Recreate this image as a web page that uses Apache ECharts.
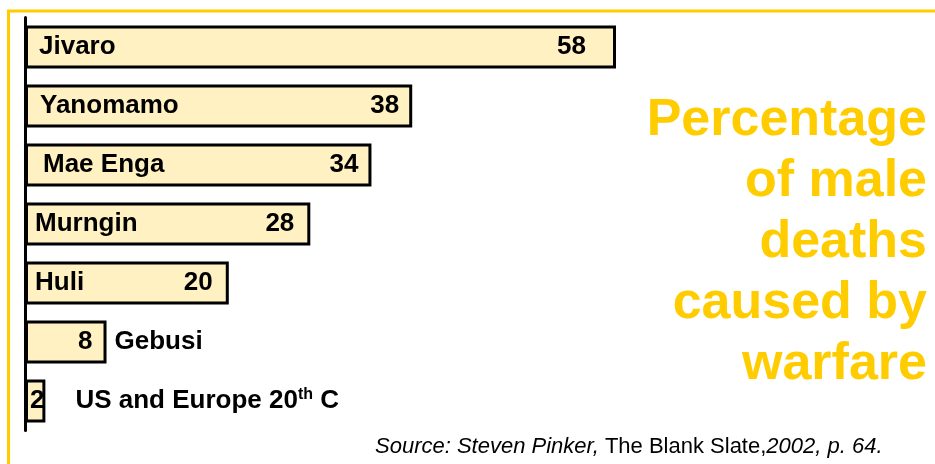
<!DOCTYPE html>
<html>
<head>
<meta charset="utf-8">
<script src="https://cdn.jsdelivr.net/npm/echarts@6/dist/echarts.min.js"></script>
<style>
  html, body { margin: 0; padding: 0; background: #fff; }
  #chart { width: 935px; height: 464px; }
</style>
</head>
<body>
<div id="chart"></div>
<script>
// data
const groups = ['Jivaro', 'Yanomamo', 'Mae Enga', 'Murngin', 'Huli', 'Gebusi', 'US and Europe 20th C'];
const percentMaleDeaths = [58, 38, 34, 28, 20, 8, 2];
// groups whose name sits outside the bar
const outsideNames = ['Gebusi', 'US and Europe 20th C'];

const titleText = 'Percentage\nof male\ndeaths\ncaused by\nwarfare';

const yellow = '#FFCC00';
const barFill = '#FFF1C1';
const font = '"Liberation Sans", Arial, sans-serif';

// small per-bar nudges for the label padding
const valuePad = [30, 13, 13, 16, 16, 14, 5];
const namePad = [14, 15, 18, 10, 10, 8, 30];

const chart = echarts.init(document.getElementById('chart'));

const valueData = percentMaleDeaths.map((v, i) => ({
  value: v,
  label: i === 6 ? { position: 'insideLeft', distance: valuePad[i] } : { distance: valuePad[i] }
}));

const nameData = percentMaleDeaths.map((v, i) => {
  const name = groups[i];
  if (outsideNames.indexOf(name) < 0) {
    return { value: v, label: { position: 'insideLeft', distance: namePad[i] } };
  }
  return {
    value: v,
    label: {
      position: 'right',
      distance: namePad[i],
      formatter: name === 'Gebusi' ? '{n|Gebusi}' : '{n|US and Europe 20}{s|th}{n| C}'
    }
  };
});

chart.setOption({
  animation: false,
  grid: { left: 25, right: 319, top: 17.5, bottom: 33.5 },
  xAxis: {
    type: 'value',
    min: 0,
    max: 58,
    show: false
  },
  yAxis: {
    type: 'category',
    data: groups,
    inverse: true,
    axisLine: { show: true, lineStyle: { color: '#000', width: 3 } },
    axisTick: { show: false },
    axisLabel: { show: false }
  },
  series: [
    {
      type: 'bar',
      barWidth: 43,
      data: valueData,
      itemStyle: { color: barFill, borderColor: '#000', borderWidth: 3 },
      label: {
        show: true,
        position: 'insideRight',
        formatter: '{c}',
        color: '#000',
        fontFamily: font,
        fontWeight: 'bold',
        fontSize: 26
      },
      silent: true
    },
    {
      type: 'bar',
      barWidth: 43,
      barGap: '-100%',
      data: nameData,
      itemStyle: { color: 'transparent', borderWidth: 0 },
      label: {
        show: true,
        formatter: '{b}',
        color: '#000',
        fontFamily: font,
        fontWeight: 'bold',
        fontSize: 26,
        rich: {
          n: { fontFamily: font, fontWeight: 'bold', fontSize: 26, color: '#000' },
          s: { fontFamily: font, fontWeight: 'bold', fontSize: 16, color: '#000', verticalAlign: 'top', padding: [0, 0, 12, 0] }
        }
      },
      silent: true,
      z: 3
    }
  ],
  graphic: [
    {
      type: 'polyline',
      shape: { points: [[8.5, 464], [8.5, 11], [935, 11]] },
      style: { stroke: yellow, lineWidth: 3, fill: null },
      silent: true
    },
    {
      type: 'text',
      x: 927,
      y: 90,
      style: {
        text: titleText,
        align: 'right',
        textAlign: 'right',
        verticalAlign: 'top',
        fill: yellow,
        font: 'bold 52px ' + font,
        lineHeight: 61
      },
      silent: true
    },
    {
      type: 'text',
      left: 375,
      top: 436,
      style: {
        text: '{i|Source: Steven Pinker, }{r|The Blank Slate,}{i|2002, p. 64.}',
        rich: {
          i: { fontFamily: '"Liberation Sans Narrow", "Liberation Sans", Arial', fontStyle: 'italic', fontSize: 22, fill: '#000' },
          r: { fontFamily: '"Liberation Sans Narrow", "Liberation Sans", Arial', fontSize: 22, fill: '#000' }
        }
      },
      silent: true
    }
  ]
});
</script>
</body>
</html>
